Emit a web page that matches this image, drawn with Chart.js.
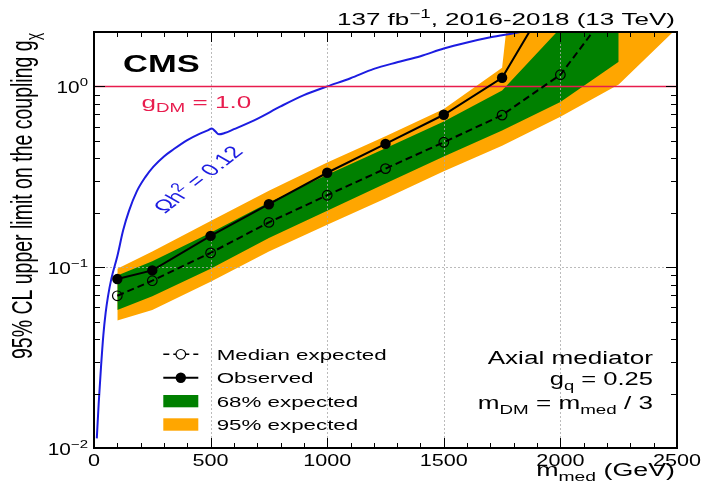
<!DOCTYPE html>
<html>
<head>
<meta charset="utf-8">
<script src="https://cdn.jsdelivr.net/npm/chart.js@4.4.1/dist/chart.umd.min.js"></script>
<style>
  html, body { margin: 0; padding: 0; background: #fff; }
  #wrap { width: 704px; height: 490px; }
</style>
</head>
<body>
<div id="wrap"><canvas id="c" width="704" height="490"></canvas></div>
<script>
// Mediator mass points (GeV) and limits on the coupling g_chi
const massObs = [100, 250, 500, 750, 1000, 1250, 1500, 1750, 2000];
const observed = [0.086, 0.096, 0.149, 0.223, 0.333, 0.481, 0.697, 1.117, 3.9];

const massExp = [100, 250, 500, 750, 1000, 1250, 1500, 1750, 2000, 2250];
const expected = [0.0695, 0.0842, 0.120, 0.177, 0.250, 0.351, 0.491, 0.694, 1.16, 3.1];

// 68% band
const massGreen = [100, 250, 500, 750, 1000, 1250, 1500, 1750, 2000, 2250];
const green68Up = [0.090, 0.108, 0.155, 0.228, 0.325, 0.455, 0.64, 0.95, 2.1, 1000];
const green68Down = [0.058, 0.069, 0.098, 0.145, 0.205, 0.29, 0.41, 0.57, 0.82, 1.37];

// 95% band
const massOrange = [100, 250, 500, 750, 1000, 1250, 1500, 1750, 2000, 2250, 2500];
const orange95Up = [0.098, 0.122, 0.180, 0.265, 0.38, 0.53, 0.75, 1.27, 1000, 1000, 1000];
const orange95Down = [0.0507, 0.058, 0.083, 0.122, 0.172, 0.24, 0.34, 0.47, 0.68, 1.026, 2.1];

// Relic density curve, Omega h^2 = 0.12
const relicMass = [12, 20, 30, 40, 50, 60, 75, 100, 125, 150, 183, 220, 255, 300, 340, 400, 450, 490, 505, 520, 535, 560, 600, 700, 800, 900, 1000, 1100, 1200, 1300, 1400, 1500, 1600, 1700, 1800, 1900];
const relicCoupling = [0.0113, 0.0175, 0.028, 0.042, 0.056, 0.069, 0.087, 0.115, 0.16, 0.205, 0.262, 0.315, 0.36, 0.41, 0.448, 0.505, 0.545, 0.573, 0.585, 0.565, 0.543, 0.552, 0.58, 0.662, 0.775, 0.895, 1.0, 1.11, 1.25, 1.36, 1.47, 1.62, 1.75, 1.87, 1.97, 2.08];

// Reference coupling g_DM = 1.0
const gDM = 1.0;

// Axis ticks
const xTicks = [0, 500, 1000, 1500, 2000, 2500];
const yTicks = [0.01, 0.1, 1];
const yTickExp = ['\u22122', '\u22121', '0'];

const ORANGE = 'rgb(255,166,0)';
const GREEN = 'rgb(0,128,0)';
const BLUE = 'rgb(28,28,225)';
const RED = 'rgb(232,28,78)';
const FONT = '"Liberation Sans", Arial, Helvetica, sans-serif';

const pts = (xs, ys) => xs.map((x, i) => ({ x: x, y: ys[i] }));

// Draws a run of text pieces; a piece may be [text, 'sub'] or [text, 'sup'].
function richText(ctx, parts, x, y, o) {
  const size = o.size, sx = o.sx || 1;
  ctx.save();
  ctx.translate(x, y);
  ctx.scale(sx, 1);
  if (o.rot) ctx.rotate(o.rot);
  ctx.fillStyle = o.color || '#000';
  ctx.textBaseline = 'alphabetic';
  ctx.textAlign = 'left';
  const spec = parts.map(p => {
    const t = Array.isArray(p) ? p[0] : p;
    const k = Array.isArray(p) ? p[1] : '';
    const s = k ? size * 0.72 : size;
    const dy = k === 'sub' ? size * 0.26 : (k === 'sup' ? -size * 0.42 : 0);
    const font = (o.bold ? 'bold ' : '') + s.toFixed(2) + 'px ' + FONT;
    ctx.font = font;
    return { t: t, font: font, dy: dy, w: ctx.measureText(t).width };
  });
  const total = spec.reduce((a, b) => a + b.w, 0);
  let cx = o.align === 'right' ? -total : (o.align === 'center' ? -total / 2 : 0);
  for (const s of spec) {
    ctx.font = s.font;
    ctx.fillText(s.t, cx, s.dy);
    cx += s.w;
  }
  ctx.restore();
}

const gridPlugin = {
  id: 'gridOverBands',
  afterDatasetDraw(chart, args) {
    if (args.index !== 2) return;
    const { ctx, chartArea: a, scales: { x, y } } = chart;
    ctx.save();
    ctx.strokeStyle = 'rgba(170,170,170,0.8)';
    ctx.lineWidth = 1;
    ctx.setLineDash([2, 2]);
    for (const v of xTicks) {
      const px = Math.round(x.getPixelForValue(v)) + 0.5;
      if (px <= a.left + 2 || px >= a.right - 2) continue;
      ctx.beginPath(); ctx.moveTo(px, a.top); ctx.lineTo(px, a.bottom); ctx.stroke();
    }
    for (const v of yTicks) {
      const py = Math.round(y.getPixelForValue(v)) + 0.5;
      if (py <= a.top + 2 || py >= a.bottom - 2) continue;
      ctx.beginPath(); ctx.moveTo(a.left, py); ctx.lineTo(a.right, py); ctx.stroke();
    }
    ctx.restore();
  }
};

const decorPlugin = {
  id: 'decor',
  afterDraw(chart) {
    const { ctx, chartArea: a, scales: { x, y } } = chart;
    ctx.save();

    // frame
    ctx.strokeStyle = '#000';
    ctx.lineWidth = 2;
    ctx.strokeRect(a.left, a.top, a.right - a.left, a.bottom - a.top);

    // x ticks (bottom and top)
    ctx.lineWidth = 1;
    for (let v = 0; v <= 2500; v += 100) {
      const px = Math.round(x.getPixelForValue(v)) + 0.5;
      const len = v % 500 === 0 ? 10 : 5;
      ctx.beginPath();
      ctx.moveTo(px, a.bottom); ctx.lineTo(px, a.bottom - len);
      ctx.moveTo(px, a.top); ctx.lineTo(px, a.top + len);
      ctx.stroke();
    }
    // y ticks (left and right), log decades
    for (let d = -2; d <= 0; d++) {
      for (let k = 1; k <= 9; k++) {
        const v = k * Math.pow(10, d);
        if (v > 2) break;
        const py = Math.round(y.getPixelForValue(v)) + 0.5;
        const len = k === 1 ? 11 : 6;
        ctx.beginPath();
        ctx.moveTo(a.left, py); ctx.lineTo(a.left + len, py);
        ctx.moveTo(a.right, py); ctx.lineTo(a.right - len, py);
        ctx.stroke();
      }
    }

    // tick labels
    for (const v of xTicks) {
      richText(ctx, [String(v)], x.getPixelForValue(v), 465.5, { size: 16, sx: 1.35, align: 'center' });
    }
    yTicks.forEach((v, i) => {
      richText(ctx, ['10', [yTickExp[i], 'sup']], 88, y.getPixelForValue(v) + 6.5, { size: 16, sx: 1.3, align: 'right' });
    });

    // axis titles
    richText(ctx, ['m', ['med', 'sub'], ' (GeV)'], 675, 476, { size: 18, sx: 1.49, align: 'right' });
    richText(ctx, ['95% CL upper limit on the coupling g', ['\u03c7', 'sub']], 32, 33,
      { size: 19.5, sx: 1.5, rot: -Math.PI / 2, align: 'right' });

    // header
    richText(ctx, ['137 fb', ['\u22121', 'sup'], ', 2016-2018 (13 TeV)'], 675, 25, { size: 17, sx: 1.53, align: 'right' });
    richText(ctx, ['CMS'], 123, 71.5, { size: 23, bold: true, sx: 1.5 });

    // annotations
    richText(ctx, ['g', ['DM', 'sub'], ' = 1.0'], 141.5, 108, { size: 16.5, sx: 1.58, color: RED });
    richText(ctx, ['\u03a9h', ['2', 'sup'], ' = 0.12'], 165, 214,
      { size: 17, sx: 1.5, rot: -49.6 * Math.PI / 180, color: BLUE });

    richText(ctx, ['Axial mediator'], 653, 364.3, { size: 18, sx: 1.45, align: 'right' });
    richText(ctx, ['g', ['q', 'sub'], ' = 0.25'], 653, 385, { size: 18, sx: 1.42, align: 'right' });
    richText(ctx, ['m', ['DM', 'sub'], ' = m', ['med', 'sub'], ' / 3'], 653, 409.3, { size: 18, sx: 1.45, align: 'right' });

    // legend
    const lx0 = 163.3, lx1 = 198.3, lxc = (lx0 + lx1) / 2, tx = 216.7;
    ctx.strokeStyle = '#000';
    ctx.lineWidth = 1.5;
    ctx.setLineDash([6, 4]);
    ctx.beginPath(); ctx.moveTo(lx0, 354.3); ctx.lineTo(lx1, 354.3); ctx.stroke();
    ctx.setLineDash([]);
    ctx.fillStyle = '#fff';
    ctx.beginPath(); ctx.arc(lxc, 354.3, 4.8, 0, Math.PI * 2); ctx.fill();
    ctx.lineWidth = 1.2;
    ctx.stroke();
    ctx.lineWidth = 2;
    ctx.beginPath(); ctx.moveTo(lx0, 377.7); ctx.lineTo(lx1, 377.7); ctx.stroke();
    ctx.fillStyle = '#000';
    ctx.beginPath(); ctx.arc(lxc, 377.7, 5.2, 0, Math.PI * 2); ctx.fill();
    ctx.fillStyle = GREEN;
    ctx.fillRect(lx0, 395, lx1 - lx0, 12.3);
    ctx.fillStyle = ORANGE;
    ctx.fillRect(lx0, 418.3, lx1 - lx0, 12.4);

    const lo = { size: 15.5, sx: 1.44 };
    richText(ctx, ['Median expected'], tx, 360, lo);
    richText(ctx, ['Observed'], tx, 383.3, lo);
    richText(ctx, ['68% expected'], tx, 406.7, lo);
    richText(ctx, ['95% expected'], tx, 430, lo);

    ctx.restore();
  }
};

new Chart(document.getElementById('c').getContext('2d'), {
  type: 'line',
  data: {
    datasets: [
      { label: '95% up', data: pts(massOrange, orange95Up), fill: 1, backgroundColor: ORANGE,
        borderWidth: 0, borderColor: 'rgba(0,0,0,0)', pointRadius: 0, order: 12 },
      { label: '95% down', data: pts(massOrange, orange95Down), fill: false,
        borderWidth: 0, borderColor: 'rgba(0,0,0,0)', pointRadius: 0, order: 13 },
      { label: '68% up', data: pts(massGreen, green68Up), fill: 3, backgroundColor: GREEN,
        borderWidth: 0, borderColor: 'rgba(0,0,0,0)', pointRadius: 0, order: 10 },
      { label: '68% down', data: pts(massGreen, green68Down), fill: false,
        borderWidth: 0, borderColor: 'rgba(0,0,0,0)', pointRadius: 0, order: 11 },
      { label: 'relic', data: pts(relicMass, relicCoupling), fill: false, borderColor: BLUE,
        borderWidth: 2, pointRadius: 0, cubicInterpolationMode: 'monotone', order: 8 },
      { label: 'gDM', data: [{ x: 0, y: gDM }, { x: 2500, y: gDM }], fill: false, borderColor: RED,
        borderWidth: 1.5, pointRadius: 0, order: 7 },
      { label: 'Median expected', data: pts(massExp, expected), fill: false, borderColor: '#000',
        borderWidth: 2, borderDash: [7, 4], pointRadius: 4.8, pointBorderWidth: 1.2,
        pointBorderColor: '#000', pointBackgroundColor: 'rgba(0,0,0,0)', order: 6 },
      { label: 'Observed', data: pts(massObs, observed), fill: false, borderColor: '#000',
        borderWidth: 2, pointRadius: 5.2, pointBorderWidth: 0,
        pointBackgroundColor: '#000', order: 5 }
    ]
  },
  options: {
    responsive: false,
    animation: false,
    layout: { padding: { left: 94, right: 27, top: 32, bottom: 42 } },
    scales: {
      x: { type: 'linear', min: 0, max: 2500, display: false },
      y: { type: 'logarithmic', min: 0.01, max: 2, display: false }
    },
    plugins: { legend: { display: false }, tooltip: { enabled: false } },
    elements: { line: { tension: 0 } }
  },
  plugins: [gridPlugin, decorPlugin]
});
</script>
</body>
</html>
